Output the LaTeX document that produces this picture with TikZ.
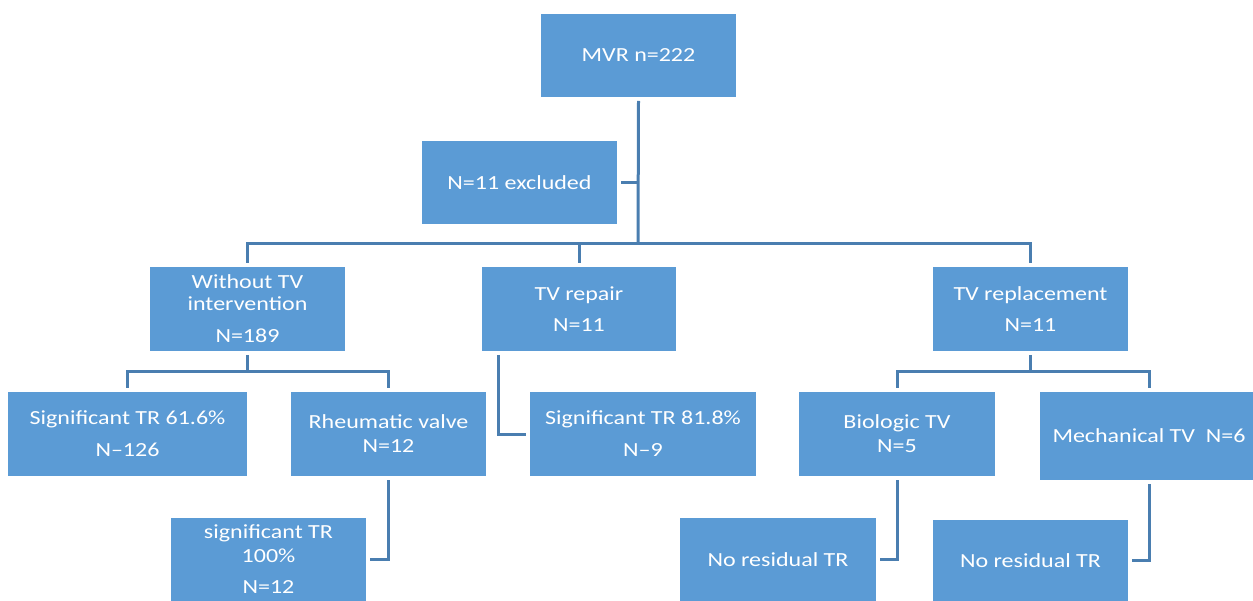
\documentclass[tikz,border=0pt]{standalone}
\usepackage{fontspec}
\setmainfont{Carlito}[FakeStretch=1.2]
\usepackage{xcolor}

\definecolor{boxblue}{HTML}{5B9BD5}
\definecolor{linkblue}{HTML}{4A7EB0}

\tikzset{
	box/.style={fill=boxblue, text=white, align=center, inner sep=0pt, outer sep=4pt, font=\fontsize{20}{24}\selectfont},
	link/.style={draw=linkblue, line width=3pt},
}

\begin{document}
\begin{tikzpicture}[x=1pt, y=-1pt]
	\useasboundingbox (0,0) rectangle (1253,601);

	% boxes
	\node[box, minimum width=195, minimum height=83] (mvr) at (638.5,55.5) {MVR n=222};
	\node[box, minimum width=195, minimum height=83] (excl) at (519.5,182.5) {N=11 excluded};

	\node[box, minimum width=195, minimum height=84] (wotv) at (247.5,309) {Without TV\\[-2pt]intervention\\[8pt]N=189};
	\node[box, minimum width=194, minimum height=84] (repair) at (579,309) {TV repair\\[7pt]N=11};
	\node[box, minimum width=195, minimum height=84] (repl) at (1030.5,309) {TV replacement\\[7pt]N=11};

	\node[box, minimum width=239, minimum height=84] (sig1) at (127.5,434) {Significant TR 61.6\%\\[8pt]N--126};
	\node[box, minimum width=195, minimum height=84] (rheu) at (388.5,434) {Rheumatic valve\\N=12};
	\node[box, minimum width=226, minimum height=84] (sig81) at (643,434) {Significant TR 81.8\%\\[8pt]N--9};
	\node[box, minimum width=196, minimum height=84] (bio) at (897,434) {Biologic TV\\N=5};
	\node[box, minimum width=218, minimum height=88] (mech) at (1149,436) {Mechanical TV\ \ N=6};

	\node[box, minimum width=195, minimum height=83] (sig100) at (268.5,559.5) {significant TR\\100\%\\[7pt]N=12};
	\node[box, minimum width=196, minimum height=83] (nores1) at (778,559.5) {No residual TR};
	\node[box, minimum width=195, minimum height=81] (nores2) at (1030.5,560.5) {No residual TR};

	% split points
	\coordinate (split) at (638,244);
	\coordinate (wosplit) at (247.5,372);
	\coordinate (rpsplit) at (1030.5,372);

	% connectors
	\draw[link] (mvr.south) -- (split);
	\draw[link] (excl.east) -- (excl.east -| split);
	\draw[link] (wotv.north) |- (split) -| (repl.north);
	\draw[link] (repair.north) -- (repair.north |- split);

	\draw[link] (wotv.south) -- (wosplit);
	\draw[link] (sig1.north) |- (wosplit) -| (rheu.north);
	\draw[link] (rheu.south) |- (sig100.east);

	\draw[link] (repair.south west) ++(20,0) |- (sig81.west);

	\draw[link] (repl.south) -- (rpsplit);
	\draw[link] (bio.north) |- (rpsplit) -| (mech.north);
	\draw[link] (bio.south) |- (nores1.east);
	\draw[link] (mech.south) |- (nores2.east);
\end{tikzpicture}
\end{document}
